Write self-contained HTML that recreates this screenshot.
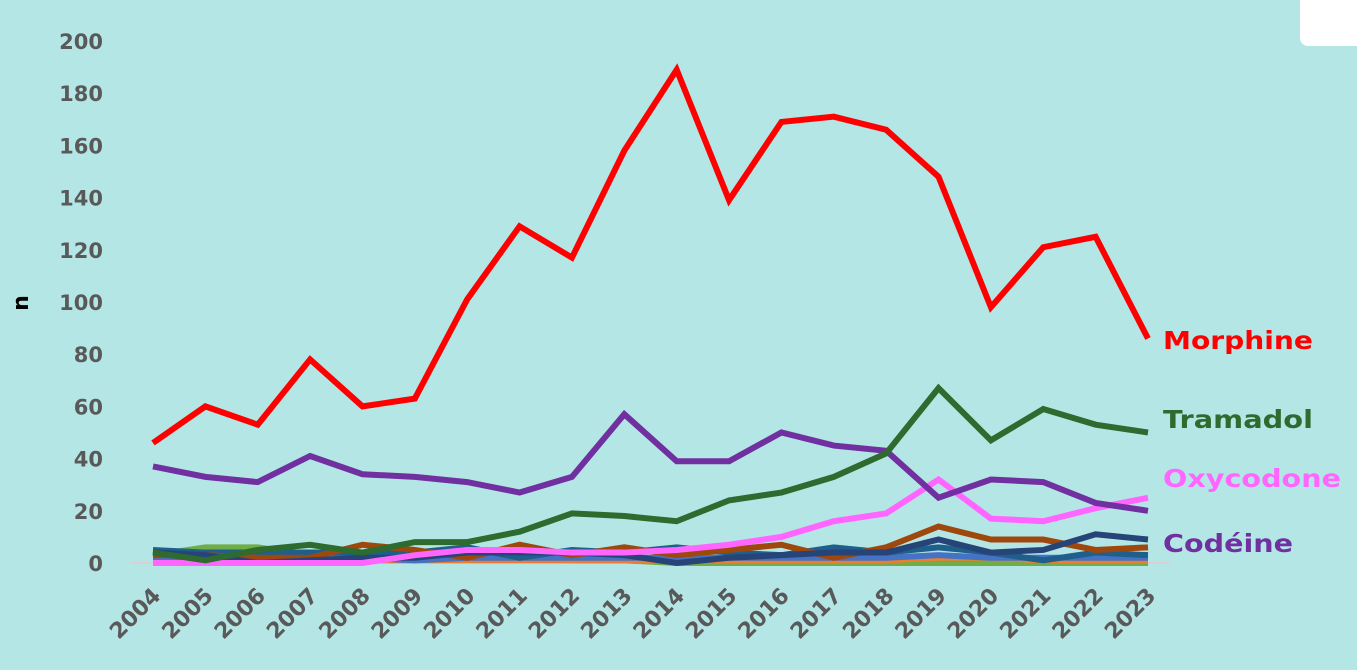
<!DOCTYPE html>
<html><head><meta charset="utf-8"><style>
body{margin:0;background:#b5e6e6;}
svg{display:block;font-family:"DejaVu Sans","Liberation Sans",sans-serif;}
</style></head><body>
<svg width="1357" height="670" viewBox="0 0 1357 670">
<rect width="1357" height="670" fill="#b5e6e6"/>
<rect x="1300" y="-10" width="80" height="56" rx="8" fill="#fff"/>
<g id="g"></g>
</svg>
<script>
const years=["2004","2005","2006","2007","2008","2009","2010","2011","2012","2013","2014","2015","2016","2017","2018","2019","2020","2021","2022","2023"];
const yTicks=[0,20,40,60,80,100,120,140,160,180,200];
const lightGreen=[3,6,6,3,2,3,3,2,1,1,0,0,0,0,0,0,0,0,0,0];
const orange=[1,1,1,1,1,1,1,1,1,1,1,1,1,1,1,2,2,1,1,1];
const lightBlue=[2,2,2,2,2,1,2,2,2,2,2,2,2,2,2,3,2,2,2,2];
const midBlue=[5,4,4,4,4,4,6,2,5,4,6,4,3,6,4,6,4,1,4,3];
const brown=[3,3,2,2,7,5,2,7,3,6,3,5,7,2,6,14,9,9,5,6];
const navy=[4,3,0,1,2,2,4,4,4,3,0,2,3,4,4,9,4,5,11,9];
const oxycodone=[0,0,0,0,0,3,5,5,4,4,5,7,10,16,19,32,17,16,21,25];
const codeine=[37,33,31,41,34,33,31,27,33,57,39,39,50,45,43,25,32,31,23,20];
const tramadol=[4,1,5,7,4,8,8,12,19,18,16,24,27,33,42,67,47,59,53,50];
const morphine=[46,60,53,78,60,63,101,129,117,158,189,139,169,171,166,148,98,121,125,86];
const NS="http://www.w3.org/2000/svg";
const g=document.getElementById('g');
const x=i=>153+i*(1148-153)/(years.length-1);
const y=v=>563-v*2.61;
function mk(t,a){const e=document.createElementNS(NS,t);for(const k in a)e.setAttribute(k,a[k]);g.appendChild(e);return e;}
let base=mk('line',{x1:130,x2:1170,y1:563,y2:563,stroke:'#e8c8c8','stroke-width':1.5});


yTicks.forEach(v=>{const t=mk('text',{x:103,y:y(v)+8,'text-anchor':'end','font-size':21,'font-weight':'bold',fill:'#595959'});t.textContent=v;

});
years.forEach((yr,i)=>{const t=mk('text',{x:0,y:0,'text-anchor':'end','font-size':22,'font-weight':'bold',fill:'#595959',transform:`translate(${x(i)+9},${597}) rotate(-45)`});t.textContent=yr;

});
const at=mk('text',{x:0,y:0,'text-anchor':'middle','font-size':22,'font-weight':'bold',fill:'#000',transform:'translate(28,303) rotate(-90)'});at.textContent='n';


const series=[[lightGreen,'#70ad47','line-light-green'],[orange,'#ed7d31','line-orange'],[lightBlue,'#4472c4','line-light-blue'],[midBlue,'#1f5f8b','line-mid-blue'],[brown,'#9e480e','line-brown'],[navy,'#264478','line-navy'],[oxycodone,'#ff66ff','line-oxycodone'],[codeine,'#7030a0','line-codeine'],[tramadol,'#2e6b2e','line-tramadol'],[morphine,'#ff0000','line-morphine']];
series.forEach(([d,c,n])=>{const p=mk('polyline',{points:d.map((v,i)=>x(i)+','+y(v)).join(' '),fill:'none',stroke:c,'stroke-width':6,'stroke-linejoin':'miter'});

});
const labels=[['Morphine','#ff0000',349,150],['Tramadol','#2e6b2e',428,150],['Oxycodone','#ff66ff',487,178],['Codéine','#7030a0',552,130]];
labels.forEach(([s,c,by,w])=>{const t=mk('text',{x:1163,y:by,'font-size':25,'font-weight':'bold',fill:c,textLength:w,lengthAdjust:'spacingAndGlyphs'});t.textContent=s;

});
</script>
</body></html>
